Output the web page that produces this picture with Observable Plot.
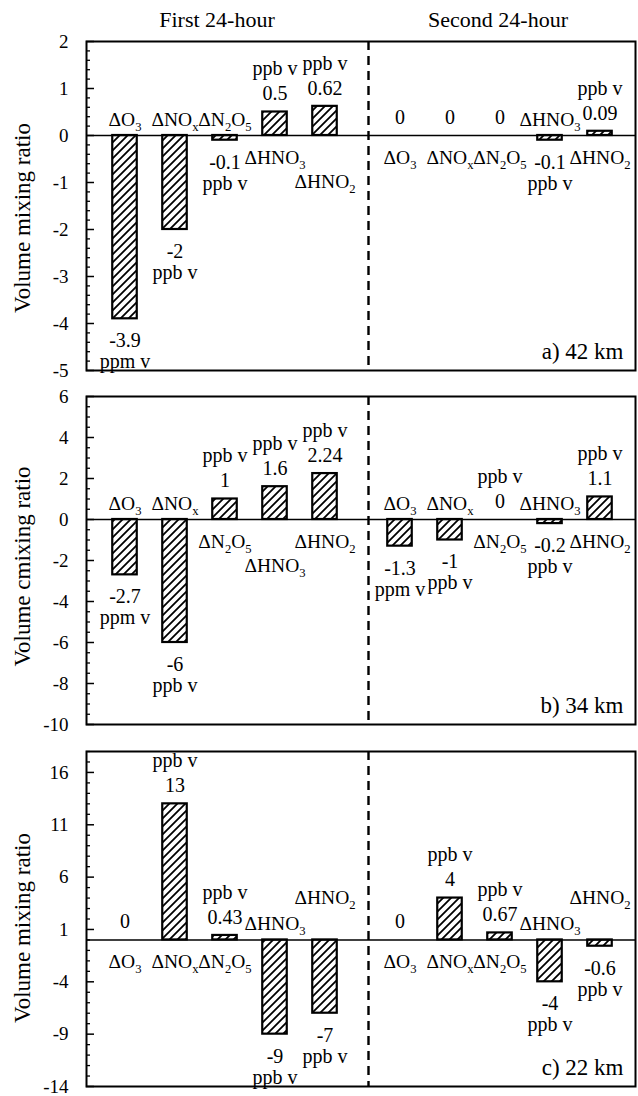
<!DOCTYPE html>
<html>
<head>
<meta charset="utf-8">
<script src="https://cdn.jsdelivr.net/npm/d3@7"></script>
<script src="https://cdn.jsdelivr.net/npm/@observablehq/plot@0.6"></script>
<style>
  html, body { margin: 0; padding: 0; background: #fff; }
  body { font-family: "Liberation Serif", "Times New Roman", serif; }
  #wrap { position: relative; width: 638px; height: 1096px; overflow: hidden; background: #fff; }
  #wrap svg, #wrap svg text, #wrap svg tspan { font-family: "Liberation Serif", "Times New Roman", serif !important; }
  .hdr { position: absolute; top: 9px; font-size: 22px; line-height: 22px; transform: translateX(-50%); white-space: nowrap; color: #000; }
  .panel { position: absolute; left: 0; }
</style>
</head>
<body>
<svg width="0" height="0" style="position:absolute">
  <defs>
    <pattern id="hatch" patternUnits="userSpaceOnUse" width="8" height="8">
      <path d="M-2,2 L2,-2 M0,8 L8,0 M6,10 L10,6" stroke="#000" stroke-width="1.8"/>
    </pattern>
  </defs>
</svg>
<div id="wrap"></div>
<script>
// ---------------- data ----------------
const periods = ["First 24-hour", "Second 24-hour"];
const species = ["ΔO_3", "ΔNO_x", "ΔN_2O_5", "ΔHNO_3", "ΔHNO_2"];
const panelLabels = ["a) 42 km", "b) 34 km", "c) 22 km"];
const yLabels = ["Volume mixing ratio", "Volume cmixing ratio", "Volume mixing ratio"];

// values: first 24-hour (5 species), then second 24-hour (5 species)
const valuesA = [-3.9, -2, -0.1, 0.5, 0.62, 0, 0, 0, -0.1, 0.09];
const valuesB = [-2.7, -6, 1, 1.6, 2.24, -1.3, -1, 0, -0.2, 1.1];
const valuesC = [0, 13, 0.43, -9, -7, 0, 4, 0.67, -4, -0.6];

const unitsA = ["ppm v", "ppb v", "ppb v", "ppb v", "ppb v", "", "", "", "ppb v", "ppb v"];
const unitsB = ["ppm v", "ppb v", "ppb v", "ppb v", "ppb v", "ppm v", "ppb v", "ppb v", "ppb v", "ppb v"];
const unitsC = ["", "ppb v", "ppb v", "ppb v", "ppb v", "", "ppb v", "ppb v", "ppb v", "ppb v"];

const yDomainA = [-5, 2];
const yDomainB = [-10, 6];
const yDomainC = [-14, 18];
const yTicksA = [-5, -4, -3, -2, -1, 0, 1, 2];
const yTicksB = [-10, -8, -6, -4, -2, 0, 2, 4, 6];
const yTicksC = [-14, -9, -4, 1, 6, 11, 16];

// ---------------- layout / style ----------------
const FONT = '"Liberation Serif", "Times New Roman", serif';
const groupOffset = 5.5;          // slot of second 24-hour group
const xDomain = [-0.77, 10.21];
const dividerPos = 4.87;
const layout = [
  {top: 31,  frameH: 329, minorStep: 0.2, nameRow: [1,1,1,1,2, 1,1,1,1,1], labelShift: 12},
  {top: 386, frameH: 328, minorStep: 0.5, nameRow: [1,1,1,2,1, 1,1,1,1,1], labelShift: 6},
  {top: 741, frameH: 335, minorStep: 1,   nameRow: [1,1,1,1,2, 1,1,1,1,2], labelShift: 9}
];

const wrap = document.getElementById("wrap");
periods.forEach((p, g) => {
  const d = document.createElement("div");
  d.className = "hdr";
  d.style.left = (g === 0 ? 217 : 498) + "px";
  d.textContent = p;
  wrap.appendChild(d);
});

function subscriptify(svg) {
  svg.querySelectorAll("text").forEach(t => {
    if (t.querySelector("tspan")) return;
    const s = t.textContent;
    if (!s.includes("_")) return;
    t.textContent = "";
    const parts = s.split(/_(\w)/);
    let shifted = false;
    parts.forEach((part, k) => {
      if (!part) return;
      const ts = document.createElementNS("http://www.w3.org/2000/svg", "tspan");
      ts.textContent = part;
      if (k % 2 === 1) {
        ts.setAttribute("font-size", "0.65em");
        if (!shifted) { ts.setAttribute("dy", "5"); shifted = true; }
      } else if (shifted) {
        ts.setAttribute("dy", "-5"); shifted = false;
      }
      t.appendChild(ts);
    });
  });
}

function drawPanel(k, values, units, yDomain, yTicks) {
  const L = layout[k];
  const rows = values.map((v, j) => ({
    species: species[j % 5],
    period: periods[Math.floor(j / 5)],
    pos: (j % 5) + Math.floor(j / 5) * groupOffset,
    value: v,
    valueText: String(v),
    unit: units[j],
    row: L.nameRow[j]
  }));
  const n = Math.round((yDomain[1] - yDomain[0]) / L.minorStep);
  const minor = d3.range(n + 1).map(i => +(yDomain[0] + i * L.minorStep).toFixed(4))
    .filter(t => !yTicks.some(m => Math.abs(m - t) < 1e-6));

  const T = (filter, opts) => Plot.text(rows, {filter, x: "pos", fontSize: 20, fontFamily: FONT, fill: "black", ...opts});
  const N = (filter, opts) => T(filter, {y: d => 0, text: "species", fontSize: 19.5, ...opts});

  const svg = Plot.plot({
    width: 638,
    height: L.frameH + 22,
    marginTop: 10, marginBottom: 12, marginLeft: 86, marginRight: 3,
    style: {fontFamily: FONT, background: "transparent", color: "black", overflow: "visible"},
    x: {domain: xDomain, axis: null},
    y: {domain: yDomain},
    marks: [
      Plot.rectY(rows, {x1: d => d.pos - 0.245, x2: d => d.pos + 0.245, y1: d => 0, y2: "value",
        fill: "url(#hatch)", stroke: "black", strokeWidth: 2.2}),
      Plot.ruleY([0], {stroke: "black", strokeWidth: 1.6}),
      Plot.ruleX([dividerPos], {stroke: "black", strokeWidth: 2.4, strokeDasharray: "9,6"}),
      Plot.axisY({ticks: minor, tickSize: -4, fill: "none", stroke: "black", strokeWidth: 1.3, label: null}),
      Plot.axisY({ticks: yTicks, tickSize: -8, tickPadding: 26, tickFormat: d => String(d),
        fontSize: 19, fontFamily: FONT, stroke: "black", fill: "black", strokeWidth: 1.5, label: null}),
      Plot.frame({stroke: "black", strokeWidth: 2}),
      // species names (opposite side of zero)
      N(d => d.value >= 0 && d.row === 1, {dy: 22}),
      N(d => d.value >= 0 && d.row === 2, {dy: 46}),
      N(d => d.value < 0 && d.row === 1, {dy: -16}),
      N(d => d.value < 0 && d.row === 2, {dy: -42}),
      // values
      T(d => d.value >= 0, {y: "value", text: "valueText", dy: -18}),
      T(d => d.value < 0, {y: "value", text: "valueText", dy: 22}),
      // units
      T(d => d.value >= 0 && d.unit, {y: "value", text: "unit", dy: -43}),
      T(d => d.value < 0 && d.unit, {y: "value", text: "unit", dy: 43}),
      // y label and panel label
      Plot.text([yLabels[k]], {frameAnchor: "left", textAnchor: "middle", lineAnchor: "middle", rotate: -90,
        dx: -64, dy: L.labelShift, fontSize: 23, fontFamily: FONT, fill: "black"}),
      Plot.text([panelLabels[k]], {frameAnchor: "bottom-right", textAnchor: "end", lineAnchor: "middle",
        dx: -12, dy: -19, fontSize: 23, fontFamily: FONT, fill: "black"})
    ]
  });
  subscriptify(svg);
  svg.classList.add("panel");
  svg.style.position = "absolute";
  svg.style.top = L.top + "px";
  svg.style.left = "0px";
  wrap.appendChild(svg);
}

drawPanel(0, valuesA, unitsA, yDomainA, yTicksA);
drawPanel(1, valuesB, unitsB, yDomainB, yTicksB);
drawPanel(2, valuesC, unitsC, yDomainC, yTicksC);
</script>
</body>
</html>
